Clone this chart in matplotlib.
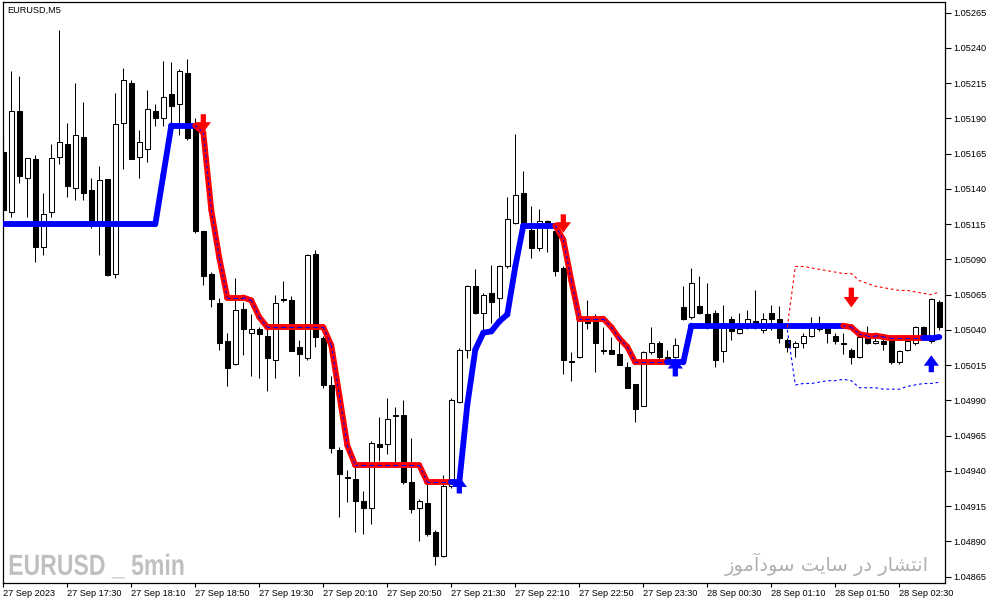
import matplotlib
matplotlib.use('Agg')
import matplotlib.pyplot as plt
from matplotlib.collections import LineCollection
from matplotlib import patheffects
from matplotlib.transforms import Affine2D
import numpy as np

# EURUSD M5 candles, 118 bars
opens = [1.05166, 1.05124, 1.05195, 1.05148, 1.05161, 1.05099, 1.05124, 1.05163, 1.05172, 1.05141,
         1.05177, 1.05139, 1.05117, 1.05147, 1.05080, 1.05187, 1.05215, 1.05163, 1.05168, 1.05195,
         1.05190, 1.05207, 1.05200, 1.05222, 1.05187, 1.05110, 1.05080, 1.05059, 1.05032, 1.05016,
         1.05055, 1.05038, 1.05041, 1.05036, 1.05019, 1.05062, 1.05061, 1.05028, 1.05020, 1.05094,
         1.05034, 1.05001, 1.04955, 1.04936, 1.04934, 1.04919, 1.04914, 1.04959, 1.04959, 1.04980,
         1.04980, 1.04932, 1.04914, 1.04917, 1.04897, 1.04880, 1.04929, 1.04989, 1.05026, 1.05071,
         1.05052, 1.05066, 1.05063, 1.05085, 1.05116, 1.05137, 1.05111, 1.05098, 1.05117, 1.05110,
         1.05084, 1.05018, 1.05021, 1.05046, 1.05049, 1.05026, 1.05026, 1.05023, 1.05014, 1.05002,
         1.04986, 1.05024, 1.05031, 1.05021, 1.05021, 1.05056, 1.05049, 1.05057, 1.05051, 1.05052,
         1.05025, 1.05048, 1.05038, 1.05042, 1.05046, 1.05040, 1.05052, 1.05048, 1.05033, 1.05028,
         1.05031, 1.05036, 1.05042, 1.05042, 1.05036, 1.05031, 1.05026, 1.05021, 1.05035, 1.05031,
         1.05032, 1.05033, 1.05017, 1.05026, 1.05031, 1.05042, 1.05032, 1.05060]
highs = [1.05178, 1.05224, 1.05220, 1.05162, 1.05164, 1.05137, 1.05172, 1.05253, 1.05187, 1.05215,
         1.05202, 1.05148, 1.05156, 1.05147, 1.05208, 1.05226, 1.05217, 1.05182, 1.05210, 1.05200,
         1.05231, 1.05230, 1.05225, 1.05232, 1.05190, 1.05110, 1.05081, 1.05063, 1.05038, 1.05077,
         1.05060, 1.05051, 1.05042, 1.05042, 1.05065, 1.05075, 1.05064, 1.05033, 1.05094, 1.05097,
         1.05036, 1.05007, 1.04957, 1.04941, 1.04943, 1.04926, 1.04961, 1.04978, 1.04992, 1.04985,
         1.04990, 1.04963, 1.04920, 1.04932, 1.04898, 1.04937, 1.04992, 1.05027, 1.05072, 1.05083,
         1.05066, 1.05086, 1.05086, 1.05134, 1.05179, 1.05153, 1.05128, 1.05126, 1.05118, 1.05112,
         1.05085, 1.05024, 1.05048, 1.05061, 1.05051, 1.05042, 1.05035, 1.05036, 1.05017, 1.05002,
         1.05025, 1.05042, 1.05032, 1.05026, 1.05034, 1.05071, 1.05084, 1.05078, 1.05073, 1.05054,
         1.05058, 1.05050, 1.05052, 1.05054, 1.05068, 1.05052, 1.05058, 1.05057, 1.05034, 1.05032,
         1.05038, 1.05049, 1.05050, 1.05043, 1.05038, 1.05038, 1.05027, 1.05036, 1.05043, 1.05036,
         1.05034, 1.05034, 1.05026, 1.05035, 1.05043, 1.05043, 1.05063, 1.05061]
lows = [1.05122, 1.05120, 1.05144, 1.05120, 1.05088, 1.05093, 1.05120, 1.05158, 1.05134, 1.05132,
        1.05132, 1.05112, 1.05093, 1.05078, 1.05077, 1.05154, 1.05161, 1.05148, 1.05159, 1.05185,
        1.05185, 1.05185, 1.05178, 1.05175, 1.05109, 1.05072, 1.05056, 1.05026, 1.05000, 1.05015,
        1.05022, 1.05007, 1.05006, 1.04997, 1.05006, 1.05060, 1.05025, 1.05007, 1.05019, 1.05028,
        1.04999, 1.04953, 1.04907, 1.04918, 1.04897, 1.04895, 1.04902, 1.04947, 1.04952, 1.04944,
        1.04931, 1.04910, 1.04890, 1.04894, 1.04873, 1.04879, 1.04928, 1.04988, 1.05020, 1.05051,
        1.05040, 1.05045, 1.05049, 1.05084, 1.05115, 1.05112, 1.05091, 1.05096, 1.05095, 1.05078,
        1.05009, 1.05004, 1.05020, 1.05041, 1.05010, 1.05023, 1.05023, 1.05015, 1.04999, 1.04975,
        1.04986, 1.05023, 1.05017, 1.05018, 1.05020, 1.05047, 1.05048, 1.05051, 1.05041, 1.05014,
        1.05017, 1.05033, 1.05037, 1.05041, 1.05041, 1.05038, 1.05040, 1.05031, 1.05024, 1.05021,
        1.05027, 1.05035, 1.05039, 1.05031, 1.05030, 1.05023, 1.05016, 1.05020, 1.05030, 1.05030,
        1.05026, 1.05016, 1.05016, 1.05025, 1.05029, 1.05034, 1.05031, 1.05040]
closes = [1.05125, 1.05195, 1.05149, 1.05162, 1.05099, 1.05122, 1.05162, 1.05173, 1.05142, 1.05178,
          1.05137, 1.05116, 1.05146, 1.05079, 1.05186, 1.05217, 1.05161, 1.05173, 1.05197, 1.05190,
          1.05205, 1.05199, 1.05224, 1.05176, 1.05110, 1.05078, 1.05062, 1.05031, 1.05013, 1.05054,
          1.05041, 1.05041, 1.05037, 1.05020, 1.05059, 1.05061, 1.05025, 1.05023, 1.05093, 1.05035,
          1.05001, 1.04956, 1.04938, 1.04935, 1.04919, 1.04914, 1.04960, 1.04957, 1.04977, 1.04979,
          1.04932, 1.04913, 1.04919, 1.04895, 1.04880, 1.04929, 1.04990, 1.05026, 1.05071, 1.05052,
          1.05065, 1.05060, 1.05085, 1.05119, 1.05136, 1.05113, 1.05098, 1.05117, 1.05116, 1.05082,
          1.05019, 1.05017, 1.05047, 1.05045, 1.05031, 1.05025, 1.05023, 1.05015, 1.04999, 1.04984,
          1.05024, 1.05031, 1.05021, 1.05019, 1.05029, 1.05048, 1.05073, 1.05052, 1.05042, 1.05019,
          1.05045, 1.05039, 1.05041, 1.05048, 1.05044, 1.05048, 1.05048, 1.05034, 1.05028, 1.05031,
          1.05036, 1.05042, 1.05041, 1.05038, 1.05032, 1.05030, 1.05021, 1.05035, 1.05031, 1.05032,
          1.05030, 1.05017, 1.05025, 1.05032, 1.05042, 1.05036, 1.05062, 1.05042]

# trend line of the indicator (one value per bar)
trend_line = [1.05115, 1.05115, 1.05115, 1.05115, 1.05115, 1.05115, 1.05115, 1.05115, 1.05115, 1.05115,
              1.05115, 1.05115, 1.05115, 1.05115, 1.05115, 1.05115, 1.05115, 1.05115, 1.05115, 1.05115,
              1.05150, 1.05185, 1.05185, 1.05185, 1.05185, 1.05180, 1.05125, 1.05091, 1.05063, 1.05063,
              1.05063, 1.05061, 1.05049, 1.05042, 1.05042, 1.05042, 1.05042, 1.05042, 1.05042, 1.05042,
              1.05042, 1.05029, 1.04994, 1.04958, 1.04944, 1.04944, 1.04944, 1.04944, 1.04944, 1.04944,
              1.04944, 1.04944, 1.04944, 1.04932, 1.04932, 1.04932, 1.04932, 1.04932, 1.04987, 1.05026,
              1.05038, 1.05039, 1.05046, 1.05051, 1.05085, 1.05114, 1.05114, 1.05114, 1.05114, 1.05114,
              1.05104, 1.05075, 1.05048, 1.05048, 1.05048, 1.05048, 1.05042, 1.05034, 1.05028, 1.05017,
              1.05017, 1.05017, 1.05017, 1.05017, 1.05017, 1.05017, 1.05043, 1.05043, 1.05043, 1.05043,
              1.05043, 1.05043, 1.05043, 1.05043, 1.05043, 1.05043, 1.05043, 1.05043, 1.05043, 1.05043,
              1.05043, 1.05043, 1.05043, 1.05043, 1.05043, 1.05043, 1.05042, 1.05037, 1.05036, 1.05036,
              1.05035, 1.05034, 1.05034, 1.05034, 1.05034, 1.05034, 1.05034, 1.05035]

# signal arrows: bar, tail price, tip price
sell_bars = [25, 70, 106]
sell_tail = [1.05193, 1.05122, 1.05070]
sell_tip = [1.05180, 1.05109, 1.05056]
buy_bars = [57, 84, 116]
buy_tail = [1.04924, 1.05007, 1.05010]
buy_tip = [1.04936, 1.05020, 1.05022]

# dotted channel on the last bars
band_start = 98
upper_band = [1.05042, 1.05085, 1.05085, 1.05084, 1.05083, 1.05082, 1.05081, 1.05080, 1.05080, 1.05075,
              1.05073, 1.05071, 1.05070, 1.05069, 1.05068, 1.05068, 1.05067, 1.05066, 1.05065, 1.05067]
lower_band = [1.05040, 1.05001, 1.05002, 1.05002, 1.05003, 1.05004, 1.05004, 1.05005, 1.05004, 1.04999,
              1.04999, 1.04999, 1.04998, 1.04998, 1.04998, 1.05000, 1.05001, 1.05002, 1.05002, 1.05003]

time_labels = ['27 Sep 2023', '27 Sep 17:30', '27 Sep 18:10', '27 Sep 18:50', '27 Sep 19:30',
               '27 Sep 20:10', '27 Sep 20:50', '27 Sep 21:30', '27 Sep 22:10', '27 Sep 22:50',
               '27 Sep 23:30', '28 Sep 00:30', '28 Sep 01:10', '28 Sep 01:50', '28 Sep 02:30']
price_ticks = [1.05265, 1.05240, 1.05215, 1.05190, 1.05165, 1.05140, 1.05115, 1.05090, 1.05065,
               1.05040, 1.05015, 1.04990, 1.04965, 1.04940, 1.04915, 1.04890, 1.04865]

# Persian watermark, written in presentation forms (visual order is reversed below)
fa_text = ('\ufe8d\ufee7\ufe98\ufeb8\ufe8e\ufead \ufea9\ufead '
           '\ufeb3\ufe8e\ufef3\ufe96 \ufeb3\ufeee\ufea9\ufe81\ufee3\ufeee\ufeaf')


class Squeeze(patheffects.AbstractPathEffect):
    # narrows the glyphs horizontally (condensed look for the watermark)
    def __init__(self, sx):
        super().__init__()
        self.sx = sx

    def draw_path(self, renderer, gc, tpath, affine, rgbFace=None):
        renderer.draw_path(gc, tpath, Affine2D().scale(self.sx, 1) + affine, rgbFace)


fig = plt.figure(figsize=(9.91, 6.05), dpi=100)
ax = fig.add_axes([3 / 991, 22 / 605, 942 / 991, 581 / 605])

n = len(opens)
x = np.arange(n)
o = np.array(opens)
c = np.array(closes)

# candles
ax.vlines(x, lows, highs, color='black', linewidth=0.75, zorder=2)
body_lo = np.minimum(o, c)
body_h = np.maximum(np.abs(c - o), 0.000008)
face = ['white' if cc >= oo else 'black' for oo, cc in zip(o, c)]
ax.bar(x, body_h, bottom=body_lo, width=0.6, color=face, edgecolor='black',
       linewidth=0.75, zorder=3)

# trend direction from the signals
trend = []
d = 1
for i in range(n):
    if i in sell_bars:
        d = -1
    if i in buy_bars:
        d = 1
    trend.append(d)

segs = []
cols = []
red_segs = []
for i in range(n - 1):
    seg = [(x[i], trend_line[i]), (x[i + 1], trend_line[i + 1])]
    segs.append(seg)
    if trend[i + 1] > 0:
        cols.append('#0000ff')
    else:
        cols.append('#ff0000')
        red_segs.append(seg)
ax.add_collection(LineCollection(segs, colors=cols, linewidths=4.2,
                                 capstyle='round', zorder=4))
ax.add_collection(LineCollection(red_segs, colors='#0000ff', linewidths=0.8,
                                 linestyles=(0, (2.5, 2.5)), zorder=5))

# channel
bx = np.arange(band_start, band_start + len(upper_band))
ax.plot(bx, upper_band, color='#ff0000', lw=0.8, ls=(0, (2.5, 2.5)), zorder=4)
ax.plot(bx, lower_band, color='#0000ff', lw=0.8, ls=(0, (2.5, 2.5)), zorder=4)

# arrows
arrow_style = 'simple,head_length=0.75,head_width=1.1,tail_width=0.38'
for b, t0, t1 in zip(sell_bars, sell_tail, sell_tip):
    ax.annotate('', xy=(b, t1), xytext=(b, t0), zorder=6,
                arrowprops=dict(arrowstyle=arrow_style, color='#ff0000', lw=0,
                                shrinkA=0, shrinkB=0))
for b, t0, t1 in zip(buy_bars, buy_tail, buy_tip):
    ax.annotate('', xy=(b, t1), xytext=(b, t0), zorder=6,
                arrowprops=dict(arrowstyle=arrow_style, color='#0000ff', lw=0,
                                shrinkA=0, shrinkB=0))

ax.set_xlim(-0.04, 117.71)
ax.set_ylim(1.048605, 1.052726)

# axes styling like the terminal
for sp in ax.spines.values():
    sp.set_linewidth(0.9)
    sp.set_color('black')
ax.yaxis.tick_right()
ax.set_yticks(price_ticks)
ax.set_yticklabels(['%.5f' % p for p in price_ticks], fontfamily='Liberation Sans', fontsize=6.6)
ax.tick_params(axis='y', direction='out', length=4, width=0.8, pad=2)
ax.set_xticks(np.arange(len(time_labels)) * 8)
ax.set_xticklabels(time_labels, ha='left', fontfamily='Liberation Sans', fontsize=6.6)
ax.tick_params(axis='x', direction='out', length=3, width=0.8, pad=1.5)

ax.text(0.005, 0.993, 'EURUSD,M5', transform=ax.transAxes, ha='left', va='top',
        fontfamily='Liberation Sans', fontsize=6.6, color='black')
wm = ax.text(0.0055, 0.014, 'EURUSD _ 5min', transform=ax.transAxes, ha='left', va='baseline',
             family=['Liberation Sans'], fontweight='bold', fontsize=21,
             color='#c0c0c0', zorder=1)
wm.set_path_effects([Squeeze(0.79)])
ax.text((929 - 3) / 942, (583 - 564) / 581, ''.join(reversed(fa_text)), transform=ax.transAxes,
        ha='right', va='center', family=['DejaVu Sans'], fontsize=14,
        color='#b0b0b0', zorder=1)

fig.savefig('out.png', dpi=100, facecolor='white')
